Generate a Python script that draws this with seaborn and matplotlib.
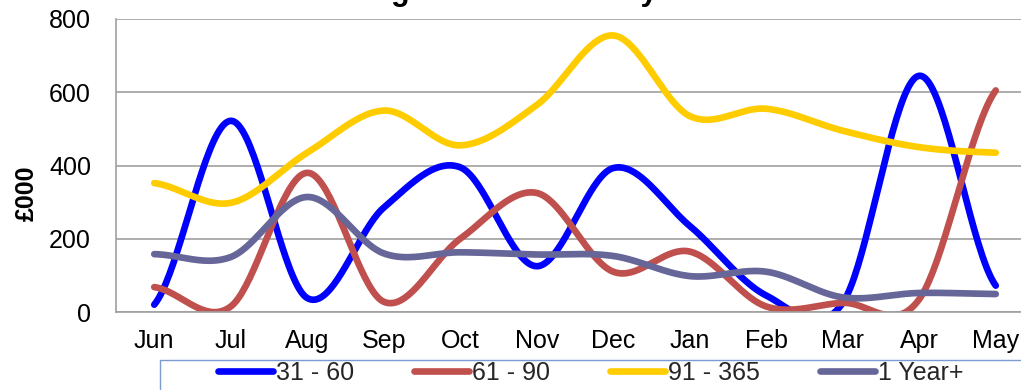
import numpy as np
import pandas as pd
import matplotlib
matplotlib.use("Agg")
import matplotlib.pyplot as plt
from matplotlib.patches import Rectangle
import seaborn as sns

# Monthly debt balances by age band (£000)
months = ["Jun", "Jul", "Aug", "Sep", "Oct", "Nov", "Dec", "Jan", "Feb", "Mar", "Apr", "May"]
band_31_60 = [20, 522, 38, 285, 395, 125, 393, 235, 45, 25, 645, 72]
band_61_90 = [68, 15, 380, 28, 200, 325, 110, 165, 15, 25, 35, 605]
band_91_365 = [352, 298, 435, 550, 455, 565, 755, 535, 555, 495, 450, 435]
band_1yr = [158, 150, 314, 160, 163, 157, 153, 98, 110, 40, 52, 49]
series_names = ["31 - 60", "61 - 90", "91 - 365", "1 Year+"]
series_colors = ["#0000FF", "#C0504D", "#FFCC00", "#666699"]
y_ticks = [0, 200, 400, 600, 800]


def smooth(values, steps=40):
    """Catmull-Rom curve through the monthly points (smoothed line style)."""
    p = np.asarray(values, dtype=float)
    n = len(p)
    xs, ys = [], []
    for i in range(n - 1):
        p0 = p[i - 1] if i > 0 else p[i]
        p1, p2 = p[i], p[i + 1]
        p3 = p[i + 2] if i + 2 < n else p[i + 1]
        m1 = (p2 - p0) / 2.0
        m2 = (p3 - p1) / 2.0
        t = np.linspace(0, 1, steps, endpoint=(i == n - 2))
        h00 = 2 * t**3 - 3 * t**2 + 1
        h10 = t**3 - 2 * t**2 + t
        h01 = -2 * t**3 + 3 * t**2
        h11 = t**3 - t**2
        xs.append(i + t)
        ys.append(h00 * p1 + h10 * m1 + h01 * p2 + h11 * m2)
    return np.concatenate(xs), np.concatenate(ys)


frames = []
for name, vals in zip(series_names, [band_31_60, band_61_90, band_91_365, band_1yr]):
    sx, sy = smooth(vals)
    frames.append(pd.DataFrame({"x": sx, "value": sy, "band": name}))
df = pd.concat(frames, ignore_index=True)

sns.set_theme(style="white")
plt.rcParams["font.family"] = ["Liberation Sans", "DejaVu Sans"]

W, H = 1021, 390
fig = plt.figure(figsize=(W / 100, H / 100), dpi=100)
ax = fig.add_axes([116 / W, (H - 312) / H, 918 / W, 293 / H])

grid_c = "#A0A0A0"
sns.lineplot(
    data=df, x="x", y="value", hue="band", hue_order=series_names,
    palette=series_colors, sort=False, estimator=None, units="band",
    linewidth=4.8, ax=ax, legend=False,
)
for line in ax.get_lines():
    line.set_solid_capstyle("round")
    line.set_solid_joinstyle("round")

ax.set_xlim(-0.5, 11.5)
ax.set_ylim(0, 800)
ax.set_xticks(range(len(months)))
ax.set_xticklabels(months)
ax.set_yticks(y_ticks)
ax.tick_params(axis="y", length=0, pad=18, labelsize=18, colors="black")
ax.tick_params(axis="x", length=0, pad=12, labelsize=18, colors="black")
ax.set_xlabel("")
ax.set_ylabel("£000", fontsize=18, fontweight="bold", color="black")
ax.yaxis.set_label_coords(-0.084, 0.406)
ax.grid(axis="y", color=grid_c, linewidth=1.2)
ax.grid(axis="x", visible=False)
ax.set_axisbelow(True)
for side in ["top", "right"]:
    ax.spines[side].set_visible(False)
for side in ["left", "bottom"]:
    ax.spines[side].set_color(grid_c)
    ax.spines[side].set_linewidth(1.2)

# Chart title sits at the very top edge of the figure
fig.text(369 / W, 1.0, "Aged Debt Trend by Month", ha="left", va="baseline",
         fontsize=22, fontweight="bold", color="black")

# Legend box along the bottom
fig.patches.append(Rectangle((160 / W, -0.05), 900 / W, 0.05 + (H - 360) / H,
                             transform=fig.transFigure, facecolor="white",
                             edgecolor="#7A9CD0", linewidth=1.0, zorder=5))
handles = [plt.Line2D([], [], color=c, linewidth=4.8, solid_capstyle="round") for c in series_colors]
leg = fig.legend(handles, series_names, loc="center left", bbox_to_anchor=(218 / W, (H - 373) / H),
                 ncol=4, frameon=False, fontsize=18, handlelength=2.2, handletextpad=0.1,
                 columnspacing=2.42, borderpad=0, borderaxespad=0)
leg.set_zorder(6)

fig.savefig("out.png", dpi=100)
